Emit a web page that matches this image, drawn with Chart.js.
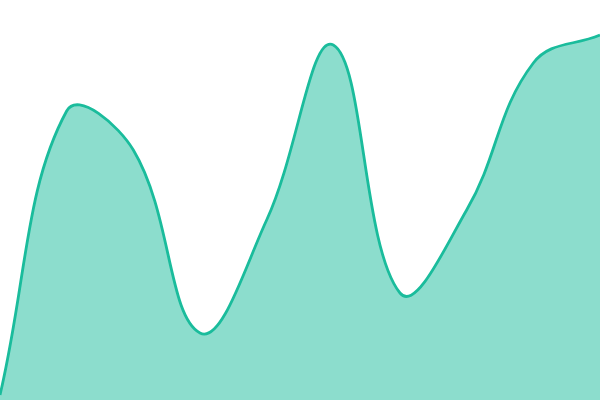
<!DOCTYPE html>
<html>
<head>
<meta charset="utf-8">
<script src="https://cdn.jsdelivr.net/npm/chart.js@4/dist/chart.umd.min.js"></script>
<style>
  html, body { margin: 0; padding: 0; background: #fff; }
  .wrap { width: 600px; height: 400px; }
</style>
</head>
<body>
<div class="wrap"><canvas id="area"></canvas></div>
<script>
const labels = ['1', '2', '3', '4', '5', '6', '7', '8', '9', '10'];
const values = [5, 289, 250, 67, 180, 355, 107, 190, 337, 365];
const yMin = 0;
const yMax = 400;

new Chart(document.getElementById('area'), {
  type: 'line',
  data: {
    labels: labels,
    datasets: [
      {
        data: values,
        fill: 'origin',
        borderColor: '#1abc9c',
        backgroundColor: 'rgba(26, 188, 156, 0.5)',
        borderWidth: 2.8,
        tension: 0.4,
        pointRadius: 0
      }
    ]
  },
  options: {
    responsive: true,
    maintainAspectRatio: false,
    animation: false,
    layout: { padding: 0 },
    plugins: {
      legend: { display: false },
      tooltip: { enabled: false }
    },
    scales: {
      x: { display: false },
      y: { display: false, min: yMin, max: yMax }
    }
  }
});
</script>
</body>
</html>
